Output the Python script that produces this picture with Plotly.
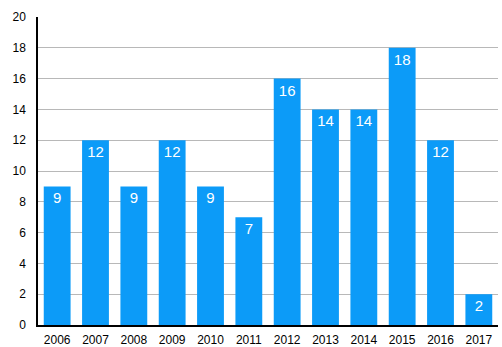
import plotly.graph_objects as go

years = ["2006", "2007", "2008", "2009", "2010", "2011",
         "2012", "2013", "2014", "2015", "2016", "2017"]
counts = [9, 12, 9, 12, 9, 7, 16, 14, 14, 18, 12, 2]
y_ticks = [0, 2, 4, 6, 8, 10, 12, 14, 16, 18, 20]

fig = go.Figure(
    go.Bar(
        x=years,
        y=counts,
        marker=dict(color="#0C9BF8", line=dict(width=0)),
        text=[str(v) for v in counts],
        textposition="inside",
        insidetextanchor="end",
        textfont=dict(color="white", size=15, family="Liberation Sans, Arial, sans-serif"),
        cliponaxis=False,
    )
)

fig.update_layout(
    width=502,
    height=347,
    margin=dict(l=38, r=4, t=17, b=22),
    paper_bgcolor="white",
    plot_bgcolor="white",
    bargap=0.3,
    showlegend=False,
    font=dict(family="Liberation Sans, Arial, sans-serif", size=12, color="black"),
    uniformtext=dict(minsize=15, mode="show"),
)
fig.update_xaxes(
    type="category",
    showline=True,
    linecolor="black",
    linewidth=1.5,
    showgrid=False,
    ticks="",
    ticklabelstandoff=3,
    automargin=False,
    tickfont=dict(size=12),
)
fig.update_yaxes(
    range=[0, 20],
    tickvals=y_ticks,
    showline=True,
    linecolor="black",
    linewidth=1.5,
    showgrid=True,
    gridcolor="#b8b8b8",
    gridwidth=1,
    zeroline=False,
    ticks="",
    ticklabelstandoff=8,
    automargin=False,
    tickfont=dict(size=12),
)

fig.write_html("out.html")
